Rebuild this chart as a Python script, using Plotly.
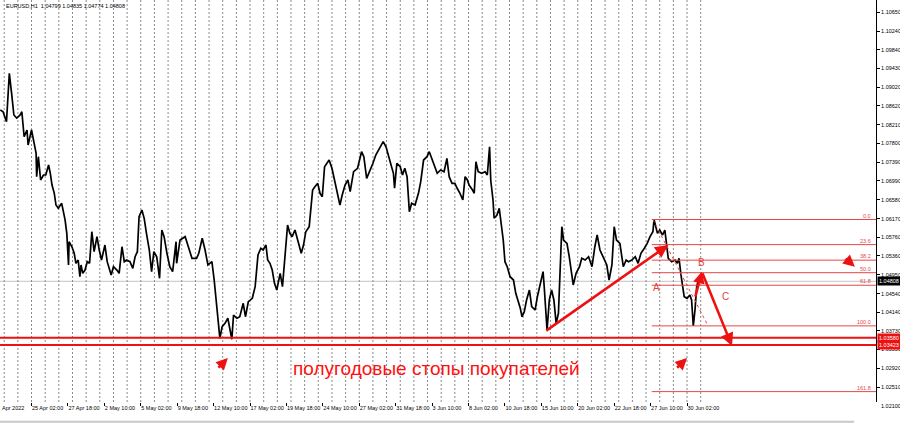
import plotly.graph_objects as go

chart_title = "EURUSD,H1  1.04799 1.04835 1.04774 1.04808"

# bar index (H1 bars, 0 = 25 Apr 02:00) and price
bars = [
    -55, -50, -44, -39, -35, -31, -26, -20, -17, -13,
    -8, -6, 0, 3, 8, 9, 12, 16, 21, 25,
    30, 33, 36, 40, 43, 47, 53, 56, 59, 62,
    65, 66, 71, 75, 78, 82, 85, 87, 90, 94,
    98, 102, 106, 110, 115, 119, 123, 129, 133, 140,
    144, 150, 154, 159, 163, 167, 173, 178, 182, 186,
    189, 194, 198, 202, 207, 211, 215, 220, 225, 229,
    233, 238, 243, 248, 254, 255, 261, 270, 276, 282,
    290, 294, 300, 305, 310, 317, 321, 324, 327, 331,
    335, 340, 345, 349, 352, 355, 361, 366, 372, 376,
    381, 388, 393, 398, 403, 407, 412, 415, 419, 423,
    427, 431, 437, 441, 446, 450, 454, 458, 463, 468,
    474, 478, 482, 488, 491, 494, 498, 503, 507, 511,
    515, 519, 523, 528, 532, 536, 542, 546, 551, 556,
    560, 566, 573, 580, 584, 589, 594, 600, 605, 611,
    618, 623, 627, 631, 636, 638, 642, 648, 652, 656,
    660, 664, 668, 674, 680, 684, 689, 695, 699, 703,
    709, 713, 719, 725, 730, 734, 739, 744, 748, 753,
    758, 762, 766, 769, 775, 778, 781, 785, 791, 797,
    801, 805, 807, 811, 813, 818, 822, 826, 829, 832,
    836, 841, 847, 851, 855, 859, 862, 866, 870, 875,
    879, 885, 889, 894, 899, 901, 904, 906, 910, 914,
    918, 922, 926, 929, 932, 935, 941, 945, 949, 952,
    957, 963, 967, 973, 979, 985, 990, 994, 999, 1005,
    1011, 1015, 1020, 1024, 1028, 1034, 1040, 1045, 1049, 1055,
    1061, 1066, 1071, 1077, 1082, 1087, 1092, 1094, 1100, 1104,
    1109, 1113, 1116, 1119, 1125, 1131, 1135, 1138, 1141, 1144,
    1147, 1152, 1157, 1160, 1163, 1166, 1169, 1172, 1175,
]
prices = [
    1.08528, 1.08491, 1.08274, 1.09325, 1.08891, 1.08420, 1.08354, 1.08420, 1.08491, 1.07948,
    1.08094, 1.07768, 1.08094, 1.07877, 1.07594, 1.07080, 1.07514, 1.07008, 1.07117, 1.07117,
    1.07334, 1.07153, 1.06899, 1.06719, 1.06465, 1.06393, 1.06502, 1.06320, 1.06139, 1.05850,
    1.05162, 1.05668, 1.05559, 1.05416, 1.05199, 1.05271, 1.04908, 1.05162, 1.04982, 1.05053,
    1.05234, 1.05199, 1.05885, 1.05451, 1.05777, 1.05488, 1.05271, 1.05596, 1.05234, 1.04945,
    1.05125, 1.05053, 1.04982, 1.05559, 1.05234, 1.05271, 1.05234, 1.05090, 1.05342, 1.05451,
    1.06211, 1.06356, 1.06176, 1.05850, 1.05488, 1.05017, 1.05451, 1.05342, 1.04873, 1.05922,
    1.05777, 1.05416, 1.05125, 1.05017, 1.05668, 1.05199, 1.05705, 1.05777, 1.05559, 1.05307,
    1.05307, 1.05416, 1.05742, 1.05488, 1.05162, 1.05234, 1.04836, 1.04402, 1.04039, 1.03570,
    1.03822, 1.03896, 1.04005, 1.03750, 1.03550, 1.04076, 1.04005, 1.04039, 1.04330, 1.04039,
    1.04365, 1.04439, 1.04691, 1.05379, 1.05525, 1.05488, 1.05596, 1.05271, 1.05199, 1.05053,
    1.04765, 1.04619, 1.04982, 1.04691, 1.05342, 1.06031, 1.05850, 1.05777, 1.05922, 1.05705,
    1.05416, 1.05596, 1.05885, 1.05994, 1.06502, 1.06791, 1.06862, 1.06936, 1.06719, 1.06645,
    1.07297, 1.07371, 1.07442, 1.07262, 1.07045, 1.06862, 1.06465, 1.06682, 1.06899, 1.07008,
    1.06754, 1.07188, 1.07262, 1.07623, 1.07514, 1.07045, 1.07188, 1.07371, 1.07551, 1.07696,
    1.07840, 1.07731, 1.07514, 1.07371, 1.07153, 1.06828, 1.07371, 1.07297, 1.07117, 1.07262,
    1.07080, 1.06320, 1.06502, 1.06465, 1.06719, 1.06971, 1.07442, 1.07514, 1.07623, 1.07479,
    1.07297, 1.07153, 1.07225, 1.07188, 1.07479, 1.07080, 1.06936, 1.06936, 1.06828, 1.06719,
    1.06574, 1.07080, 1.07008, 1.06899, 1.06791, 1.06719, 1.07405, 1.07188, 1.07153, 1.07188,
    1.07117, 1.07731, 1.07008, 1.06574, 1.06176, 1.06248, 1.06393, 1.06031, 1.05705, 1.05234,
    1.05125, 1.04908, 1.04836, 1.04547, 1.04402, 1.04222, 1.04039, 1.04148, 1.04402, 1.04619,
    1.04257, 1.04185, 1.04474, 1.04765, 1.05017, 1.04691, 1.04185, 1.03750, 1.04402, 1.04619,
    1.04402, 1.03896, 1.04113, 1.05125, 1.05994, 1.05705, 1.05633, 1.05342, 1.05017, 1.04728,
    1.04982, 1.05125, 1.05307, 1.05271, 1.05342, 1.05125, 1.05559, 1.05814, 1.05488, 1.05307,
    1.05162, 1.04836, 1.05162, 1.05994, 1.05705, 1.05633, 1.05125, 1.05271, 1.05234, 1.05271,
    1.05342, 1.05199, 1.05416, 1.05525, 1.05633, 1.05777, 1.05885, 1.06150, 1.05850, 1.05922,
    1.05814, 1.05922, 1.05633, 1.05307, 1.05234, 1.05271, 1.05199, 1.05307, 1.04982, 1.04765,
    1.04474, 1.04439, 1.04511, 1.04402, 1.03840, 1.04185, 1.04691, 1.04836, 1.04808,
]
assert len(bars) == len(prices)

x_labels = ["25 Apr 02:00", "27 Apr 18:00", "2 May 10:00", "5 May 02:00", "9 May 18:00",
            "12 May 10:00", "17 May 02:00", "19 May 18:00", "24 May 10:00", "27 May 02:00",
            "31 May 18:00", "3 Jun 10:00", "8 Jun 02:00", "10 Jun 18:00", "15 Jun 10:00",
            "20 Jun 02:00", "22 Jun 18:00", "27 Jun 10:00", "30 Jun 02:00"]
first_label = "Apr 2022"
label_step = 64
grid_step = 24
grid_first, grid_last = -48, 1176

y_ticks = [1.10650, 1.10240, 1.09840, 1.09430, 1.09020, 1.08620, 1.08210, 1.07800, 1.07390,
           1.06990, 1.06580, 1.06170, 1.05760, 1.05360, 1.04950, 1.04540, 1.04140, 1.03730,
           1.03330, 1.02920, 1.02510]
y_bottom_tick = 1.02100

x_range = [-55.4, 1484.1]
y_range = [1.02187, 1.10917]

fib_high, fib_low = 1.0615, 1.0384
fib_start_bar = 1090
fib_diag = (1092, 1189)
fib_ratios = [0.0, 23.6, 38.2, 50.0, 61.8, 100.0, 161.8]
stop_levels = [1.03580, 1.03423]
last_price = 1.04808

# hand-drawn arrows: tail bar, tail price, head bar, head price, head size
arrows = [
    (902, 1.03714, 1119, 1.05596, 1.0),
    (1166, 1.04445, 1178, 1.05017, 0.9),
    (1178, 1.05017, 1231, 1.03403, 1.0),
    (326, 1.02900, 345, 1.03142, 0.9),
    (1132, 1.02900, 1152, 1.03142, 0.9),
    (1428, 1.05329, 1447, 1.05125, 0.9),
]
wave_labels = [("A", 1099, 1.04684), ("B", 1178, 1.05227), ("C", 1219, 1.04489)]
caption = ("полугодовые стопы покупателей", 712, 1.02925)

RED = "#ee1111"
FIBRED = "#e34848"
FONT = "Liberation Sans"

fig = go.Figure()

# dotted vertical grid, only where bars exist
gx, gy = [], []
for g in range(grid_first, grid_last + 1, grid_step):
    gx += [g, g, None]
    gy += [y_range[1], y_range[0], None]
fig.add_trace(go.Scatter(x=gx, y=gy, mode="lines", hoverinfo="skip",
                         line=dict(color="#8a8a8a", width=1, dash="2px,2px")))

fig.add_trace(go.Scatter(x=bars, y=prices, mode="lines",
                         line=dict(color="black", width=1.7), hoverinfo="skip"))

shapes = []
shapes.append(dict(type="line", xref="paper", x0=0, x1=1, yref="y", y0=last_price, y1=last_price,
                   line=dict(color="#c4c4c4", width=1), layer="below"))
for lv in stop_levels:
    shapes.append(dict(type="line", xref="paper", x0=0, x1=1, yref="y", y0=lv, y1=lv,
                       line=dict(color=RED, width=2)))
annotations = []
for r in fib_ratios:
    p = fib_high - r / 100.0 * (fib_high - fib_low)
    shapes.append(dict(type="line", xref="x", x0=fib_start_bar, x1=x_range[1], yref="y", y0=p, y1=p,
                       line=dict(color=FIBRED, width=1)))
    annotations.append(dict(xref="paper", x=0.997, yref="y", y=p, text=f"{r:.1f}", showarrow=False,
                            xanchor="right", yanchor="bottom", yshift=-1,
                            font=dict(family=FONT, size=5.5, color=FIBRED)))
shapes.append(dict(type="line", xref="x", yref="y", x0=fib_diag[0], y0=fib_high, x1=fib_diag[1], y1=fib_low,
                   line=dict(color=FIBRED, width=1, dash="dot")))

for (tx, ty, hx, hy, hs) in arrows:
    annotations.append(dict(x=hx, y=hy, ax=tx, ay=ty, xref="x", yref="y", axref="x", ayref="y",
                            text="", showarrow=True, arrowhead=2, arrowsize=hs, arrowwidth=2.6,
                            arrowcolor=RED, standoff=0, startstandoff=0))
for (t, bx, py) in wave_labels:
    annotations.append(dict(x=bx, y=py, xref="x", yref="y", text=t, showarrow=False,
                            font=dict(family=FONT, size=10, color="#e84040")))
annotations.append(dict(x=caption[1], y=caption[2], xref="x", yref="y", text=caption[0], showarrow=False,
                        font=dict(family=FONT, size=19, color="#ff1010")))

annotations.append(dict(xref="paper", x=0.004, yref="paper", y=1, yshift=-1, text=chart_title,
                        showarrow=False, xanchor="left", yanchor="top",
                        font=dict(family=FONT, size=5.5, color="black")))
annotations.append(dict(xref="paper", x=0.0, yref="paper", y=0, yshift=-1, text=first_label,
                        showarrow=False, xanchor="left", yanchor="top",
                        font=dict(family=FONT, size=5.5, color="black")))
# lowest scale label sits just under the plot frame
bottom_paper_y = (y_bottom_tick - y_range[0]) / (y_range[1] - y_range[0])
annotations.append(dict(xref="paper", x=1, xshift=3, yref="paper", y=bottom_paper_y, text=f"{y_bottom_tick:.5f}",
                        showarrow=False, xanchor="left", yanchor="middle",
                        font=dict(family=FONT, size=5.5, color="black")))

# price labels on the scale
for lv, bg in [(last_price, "black")] + [(s, "#ee1111") for s in stop_levels]:
    annotations.append(dict(xref="paper", x=1, xshift=1, yref="y", y=lv, text=f"{lv:.5f}",
                            showarrow=False, xanchor="left", bgcolor=bg, borderpad=1,
                            font=dict(family=FONT, size=5.5, color="white")))

shapes.append(dict(type="line", xref="paper", yref="paper", x0=0, x1=0.975, y0=-0.049, y1=-0.049,
                   line=dict(color="#c8c8c8", width=2)))

fig.update_layout(
    width=900, height=423,
    margin=dict(l=0, r=24, t=0, b=21, autoexpand=False),
    paper_bgcolor="white", plot_bgcolor="white",
    showlegend=False,
    shapes=shapes, annotations=annotations,
    xaxis=dict(range=x_range, showgrid=False, zeroline=False, showline=False, automargin=False,
               tickvals=[i * label_step for i in range(len(x_labels))], ticktext=x_labels,
               tickangle=0, ticks="outside", ticklen=3, tickcolor="black",
               ticklabelposition="outside right", ticklabeloverflow="allow",
               tickfont=dict(family=FONT, size=5.5, color="black")),
    yaxis=dict(range=y_range, side="right", showgrid=False, zeroline=False, automargin=False,
               showline=True, linecolor="black", linewidth=1,
               tickvals=y_ticks, ticktext=[f"{v:.5f}" for v in y_ticks],
               ticks="outside", ticklen=3, tickcolor="black", ticklabeloverflow="allow",
               tickfont=dict(family=FONT, size=5.5, color="black")),
)

fig.write_html("out.html", config={"displayModeBar": False},
               post_script="document.body.style.margin='0px';document.body.style.overflow='hidden';")
